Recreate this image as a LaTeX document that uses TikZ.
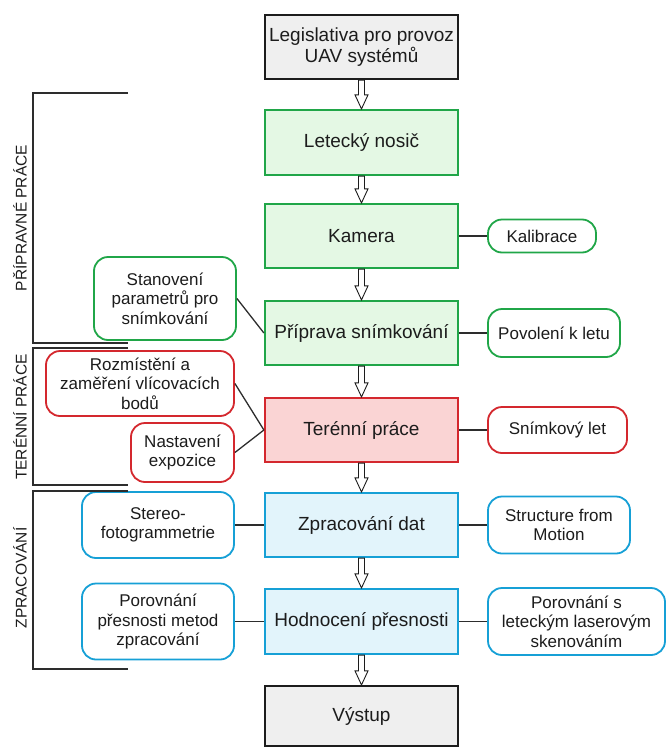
\documentclass[tikz,border=0pt]{standalone}
\usepackage{fontspec}
\setmainfont{Liberation Sans}
\usetikzlibrary{calc}
\definecolor{textgray}{RGB}{28,28,28}
\definecolor{linegray}{RGB}{45,45,45}
\definecolor{boxgray}{RGB}{239,239,239}
\definecolor{greenline}{RGB}{32,166,72}
\definecolor{greenfill}{RGB}{228,248,228}
\definecolor{redline}{RGB}{212,40,46}
\definecolor{redfill}{RGB}{250,212,212}
\definecolor{blueline}{RGB}{22,160,214}
\definecolor{bluefill}{RGB}{226,244,251}
\begin{document}
\begin{tikzpicture}[x=1pt, y=-1pt,
	mainbox/.style={draw, line width=2.2pt, minimum width=193pt, minimum height=64pt, inner sep=2pt, align=center, text=textgray, font=\fontsize{19}{21}\selectfont},
	sidebox/.style={draw, line width=1.8pt, rounded corners=14pt, fill=white, inner sep=2pt, align=center, text=textgray, font=\fontsize{17}{19.5}\selectfont},
	graybox/.style={draw=textgray, fill=boxgray},
	greenbox/.style={draw=greenline, fill=greenfill},
	redbox/.style={draw=redline, fill=redfill},
	bluebox/.style={draw=blueline, fill=bluefill},
	link/.style={draw=linegray, line width=1.3pt},
	bracket/.style={draw=linegray, line width=1.5pt},
	phase/.style={rotate=90, text=textgray, font=\fontsize{15.5}{17}\selectfont},
	blockarrow/.style={draw=textgray, fill=white, line width=0.9pt, line join=miter}]
	\useasboundingbox (0,0) rectangle (668,747);
	% main chain
	\node[mainbox, graybox] (legis) at (361.5,47) {Legislativa pro provoz\\UAV systémů};
	\node[mainbox, greenbox, minimum height=65pt] (nosic) at (361.5,142.5) {Letecký nosič};
	\node[mainbox, greenbox] (kamera) at (361.5,236) {Kamera};
	\node[mainbox, greenbox] (priprava) at (361.5,333) {Příprava snímkování};
	\node[mainbox, redbox] (teren) at (361.5,430) {Terénní práce};
	\node[mainbox, bluebox] (zprac) at (361.5,525) {Zpracování dat};
	\node[mainbox, bluebox, minimum height=65pt] (hodnoc) at (361.5,621.5) {Hodnocení přesnosti};
	\node[mainbox, graybox, minimum height=60pt] (vystup) at (361.5,716) {Výstup};
	% side boxes
	\node[sidebox, greenbox, fill=white, minimum width=108pt, minimum height=33pt] (kalib) at (542,236) {Kalibrace};
	\node[sidebox, greenbox, fill=white, minimum width=132pt, minimum height=48pt] (povol) at (554,333) {Povolení k letu};
	\node[sidebox, greenbox, fill=white, minimum width=142pt, minimum height=83pt] (stanov) at (165,298.5) {Stanovení\\parametrů pro\\snímkování};
	\node[sidebox, redbox, fill=white, minimum width=188pt, minimum height=65pt] (rozmist) at (140,383.5) {Rozmístění a\\zaměření vlícovacích\\bodů};
	\node[sidebox, redbox, fill=white, minimum width=103pt, minimum height=59pt] (nastav) at (182.5,452.5) {Nastavení\\expozice};
	\node[sidebox, redbox, fill=white, minimum width=139pt, minimum height=46pt] (snimlet) at (557.5,430) {Snímkový let};
	\node[sidebox, bluebox, fill=white, minimum width=152pt, minimum height=66pt] (stereo) at (158,525) {Stereo-\\fotogrammetrie};
	\node[sidebox, bluebox, fill=white, minimum width=142pt, minimum height=57pt] (sfm) at (559,525) {Structure from\\Motion};
	\node[sidebox, bluebox, fill=white, minimum width=152pt, minimum height=76pt] (porpres) at (158,621.5) {Porovnání\\přesnosti metod\\zpracování};
	\node[sidebox, bluebox, fill=white, minimum width=177pt, minimum height=67pt] (porlas) at (576.5,621.5) {Porovnání s\\leteckým laserovým\\skenováním};
	% links
	\draw[link] (kamera.east) -- (kalib.west);
	\draw[link] (priprava.east) -- (povol.west);
	\draw[link] (stanov.east) -- (priprava.west);
	\draw[link] (rozmist.east) -- (teren.west);
	\draw[link] (nastav.east) -- (teren.west);
	\draw[link] (teren.east) -- (snimlet.west);
	\draw[link] (stereo.east) -- (zprac.west);
	\draw[link] (zprac.east) -- (sfm.west);
	\draw[link] (porpres.east) -- (hodnoc.west);
	\draw[link] (hodnoc.east) -- (porlas.west);
	% block arrows
	\foreach \a/\b in {legis/nosic, nosic/kamera, kamera/priprava, priprava/teren, teren/zprac, zprac/hodnoc, hodnoc/vystup}
		\draw[blockarrow] ($(\a.south)+(-3,0)$) -- ($(\b.north)+(-3,-14)$) -- ($(\b.north)+(-6.5,-14)$) -- (\b.north) -- ($(\b.north)+(6.5,-14)$) -- ($(\b.north)+(3,-14)$) -- ($(\a.south)+(3,0)$) -- cycle;
	% phase brackets
	\draw[bracket] (128,93) -- (33,93) -- (33,343) -- (128,343);
	\draw[bracket] (128,348) -- (33,348) -- (33,485) -- (128,485);
	\draw[bracket] (128,491) -- (33,491) -- (33,669) -- (128,669);
	\node[phase] (ppr) at (20,218) {PŘÍPRAVNÉ PRÁCE};
	\node[phase] (ter) at (20,417) {TERÉNNÍ PRÁCE};
	\node[phase] (zpr) at (20,578) {ZPRACOVÁNÍ};
\end{tikzpicture}
\end{document}
